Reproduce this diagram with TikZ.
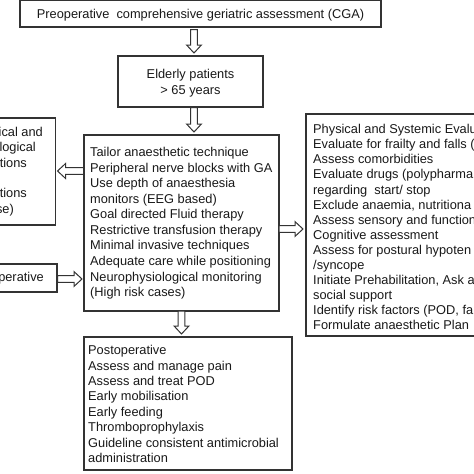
\documentclass[tikz,border=0pt]{standalone}
\usepackage{fontspec}
\setmainfont{Liberation Sans}
\usetikzlibrary{calc,fit}
\tikzset{
  box/.style={draw=black!80, line width=1.1pt, fill=white, rectangle, inner sep=0pt},
  txt/.style={inner sep=0pt, font=\fontsize{12.8}{15.3}\selectfont, text=black!90},
  blk/.style={draw=black!80, line width=1pt, fill=white, line join=miter},
}
\newcommand\boxlines[1]{\begin{tabular}[t]{@{}l@{}}#1\end{tabular}}
\newcommand\clines[1]{\begin{tabular}[t]{@{}c@{}}#1\end{tabular}}
\newcommand\blockarrow[2]{%
  \coordinate (hb) at ($(#2)!8pt!(#1)$);
  \draw[blk] ($(#1)!3.4pt!90:(#2)$) -- ($(hb)!3.4pt!-90:(#1)$) -- ($(hb)!7.4pt!-90:(#1)$)
    -- (#2) -- ($(hb)!7.4pt!90:(#1)$) -- ($(hb)!3.4pt!90:(#1)$) -- ($(#1)!3.4pt!-90:(#2)$) -- cycle;
}
\begin{document}
\begin{tikzpicture}[x=1pt,y=-1pt]
\useasboundingbox (0,0) rectangle (474,474);
\clip (0,0) rectangle (474,474);
\fill[white] (0,0) rectangle (474,474);

% boxes
\node[box, fit={(20,0.8) (381,27)}] (cga) {};
\node[box, fit={(118,56) (263,107)}] (eld) {};
\node[box, fit={(84,135) (279,311)}] (mid) {};
\node[box, fit={(-60,118) (55.7,225)}] (lft) {};
\node[box, fit={(-60,264) (57,292)}] (intra) {};
\node[box, fit={(306,114) (490,336)}] (rgt) {};
\node[box, fit={(84,337) (292,470)}] (post) {};

% texts
\node[txt, anchor=base] (cgat) at (200.5,18.6) {Preoperative\ \ comprehensive geriatric assessment (CGA)};
\node[txt, anchor=base, font=\fontsize{12.8}{16}\selectfont] (eldt) at (190.5,78) {\clines{Elderly patients\\ {>} 65 years}};

\node[txt, anchor=base west, font=\fontsize{12.8}{15.56}\selectfont] (midt) at (90,156.6) {\boxlines{%
Tailor anaesthetic technique\\
Peripheral nerve blocks with GA\\
Use depth of anaesthesia\\
monitors (EEG based)\\
Goal directed Fluid therapy\\
Restrictive transfusion therapy\\
Minimal invasive techniques\\
Adequate care while positioning\\
Neurophysiological monitoring\\
(High risk cases)}};

\node[txt, anchor=base west, font=\fontsize{12.8}{15.1}\selectfont] (rgtt) at (313,133.6) {\boxlines{%
Physical and Systemic Evalu\\
Evaluate for frailty and falls (\\
Assess comorbidities\\
Evaluate drugs (polypharma\\
regarding\ \ start/ stop\\
Exclude anaemia, nutritiona\\
Assess sensory and function\\
Cognitive assessment\\
Assess for postural hypoten\\
/syncope\\
Initiate Prehabilitation, Ask a\\
social support\\
Identify risk factors (POD, fa\\
Formulate anaesthetic Plan}};

\node[txt, anchor=base west, font=\fontsize{12.8}{15.4}\selectfont] (postt) at (88,354.6) {\boxlines{%
Postoperative\\
Assess and manage pain\\
Assess and treat POD\\
Early mobilisation\\
Early feeding\\
Thromboprophylaxis\\
Guideline consistent antimicrobial\\
administration}};

\node[txt, anchor=base east] (l1) at (43,136.6) {ical and};
\node[txt, anchor=base east] (l2) at (36,151.9) {logical};
\node[txt, anchor=base east] (l3) at (27,167.2) {tions};
\node[txt, anchor=base east] (l5) at (27,197.8) {tions};
\node[txt, anchor=base east] (l6) at (14,213.1) {se)};
\node[txt, anchor=base east] (intrat) at (44,281.8) {perative};

% arrow end points
\coordinate (a1s) at (194,29.5);  \coordinate (a1e) at (194,53);
\coordinate (a2s) at (194,107.5); \coordinate (a2e) at (194,132);
\coordinate (a3s) at (181.5,311); \coordinate (a3e) at (181.5,334);
\coordinate (a4s) at (83.5,171);  \coordinate (a4e) at (57.5,171);
\coordinate (a5s) at (57.5,279);  \coordinate (a5e) at (82,279);
\coordinate (a6s) at (279,229);   \coordinate (a6e) at (303,229);

\blockarrow{a1s}{a1e}
\blockarrow{a2s}{a2e}
\blockarrow{a3s}{a3e}
\blockarrow{a4s}{a4e}
\blockarrow{a5s}{a5e}
\blockarrow{a6s}{a6e}
\end{tikzpicture}
\end{document}
